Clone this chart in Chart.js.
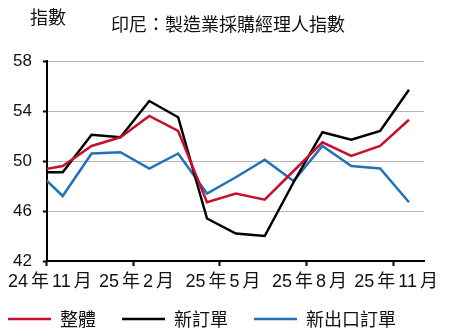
<!DOCTYPE html>
<html>
<head>
<meta charset="utf-8">
<script src="https://cdn.jsdelivr.net/npm/chart.js@4"></script>
<style>
  html, body { margin: 0; padding: 0; background: #fff; }
  #wrap { width: 451px; height: 333px; position: relative; }
</style>
</head>
<body>
<div id="wrap"><canvas id="chart"></canvas></div>
<script>
// monthly readings, Oct 2024 .. Nov 2025 (index 0 = Oct 2024)
const months = ['2024-10', '2024-11', '2024-12', '2025-01', '2025-02', '2025-03', '2025-04',
  '2025-05', '2025-06', '2025-07', '2025-08', '2025-09', '2025-10', '2025-11'];
const overall = [49.2, 49.6, 51.2, 51.9, 53.6, 52.4, 46.7, 47.4, 46.9, 49.2, 51.5, 50.4, 51.2, 53.3];
const newOrders = [49.1, 49.1, 52.1, 51.9, 54.8, 53.5, 45.4, 44.2, 44.0, 48.3, 52.3, 51.7, 52.4, 55.7];
const newExportOrders = [49.4, 47.2, 50.6, 50.7, 49.4, 50.6, 47.4, 48.7, 50.1, 48.4, 51.2, 49.6, 49.4, 46.7];

const tickMonths = [1, 4, 7, 10, 13];
// six-per-em spaces keep the labels tight
const tickLabels = [
  '24\u2006年\u200611\u2006月',
  '25\u2006年\u20062\u2006月',
  '25\u2006年\u20065\u2006月',
  '25\u2006年\u20068\u2006月',
  '25\u2006年\u200611\u2006月',
];
const yTicks = [42, 46, 50, 54, 58];

const titleText = '印尼：製造業採購經理人指數';
const unitText = '指數';

// points sit mid-month, ticks mark the start of the month
const MONTH_START = -0.55;

Chart.defaults.font.family = '"Liberation Sans", "Noto Sans CJK TC", sans-serif';
Chart.defaults.color = '#111';

const toPoints = values => values.map((v, i) => ({x: i, y: v}));

const headerText = {
  id: 'headerText',
  afterDraw(chart) {
    const {ctx} = chart;
    ctx.save();
    ctx.fillStyle = '#111';
    ctx.textBaseline = 'middle';
    ctx.font = '18px "Noto Sans CJK TC", sans-serif';
    ctx.textAlign = 'left';
    ctx.fillText(unitText, 30, 17);
    ctx.textAlign = 'center';
    ctx.fillText(titleText, 228, 24);
    ctx.restore();
  },
};

const lineStyle = color => ({
  borderColor: color,
  backgroundColor: color,
  borderWidth: 2.5,
  pointRadius: 0,
  tension: 0,
  fill: false,
});

new Chart(document.getElementById('chart'), {
  type: 'line',
  data: {
    datasets: [
      {label: '整體', data: toPoints(overall), ...lineStyle('#c8102e')},
      {label: '新訂單', data: toPoints(newOrders), ...lineStyle('#000000')},
      {label: '新出口訂單', data: toPoints(newExportOrders), ...lineStyle('#1f73b8')},
    ],
  },
  options: {
    responsive: true,
    maintainAspectRatio: false,
    animation: false,
    layout: {padding: {top: 61, left: -18, right: 27, bottom: -5}},
    scales: {
      x: {
        type: 'linear',
        min: tickMonths[0] + MONTH_START,
        max: months.length - 1 + 0.52,
        afterBuildTicks: scale => {
          scale.ticks = tickMonths.map(m => ({value: m + MONTH_START}));
        },
        afterFit: scale => {
          scale.height = 23;
          // labels run a little into the legend band; don't clip them to the axis box
          scale._computeLabelArea = () => undefined;
        },
        ticks: {
          autoSkip: false,
          maxRotation: 0,
          padding: 5,
          labelOffset: 3,
          font: {size: 18},
          color: '#111',
          callback: (value, index) => tickLabels[index],
        },
        grid: {
          drawOnChartArea: false,
          drawTicks: true,
          tickLength: 5,
          tickColor: '#000',
          tickWidth: 2,
        },
        border: {display: true, color: '#000', width: 2},
      },
      y: {
        min: yTicks[0],
        max: yTicks[yTicks.length - 1],
        afterBuildTicks: scale => {
          scale.ticks = yTicks.map(v => ({value: v}));
        },
        afterFit: scale => { scale.width = 64; },
        ticks: {
          padding: 11,
          font: {size: 17},
          color: '#111',
        },
        grid: {
          color: '#b4b4b4',
          lineWidth: 1,
          drawTicks: true,
          tickLength: 4,
          tickColor: '#000',
          tickWidth: 2,
        },
        border: {display: true, color: '#000', width: 2},
      },
    },
    plugins: {
      title: {display: false},
      tooltip: {enabled: false},
      legend: {
        position: 'bottom',
        align: 'start',
        labels: {
          usePointStyle: true,
          pointStyle: 'line',
          pointStyleWidth: 43,
          padding: 26,
          color: '#111',
          font: {size: 18, family: '"Noto Sans CJK TC", sans-serif'},
        },
      },
    },
  },
  plugins: [headerText],
});
</script>
</body>
</html>
